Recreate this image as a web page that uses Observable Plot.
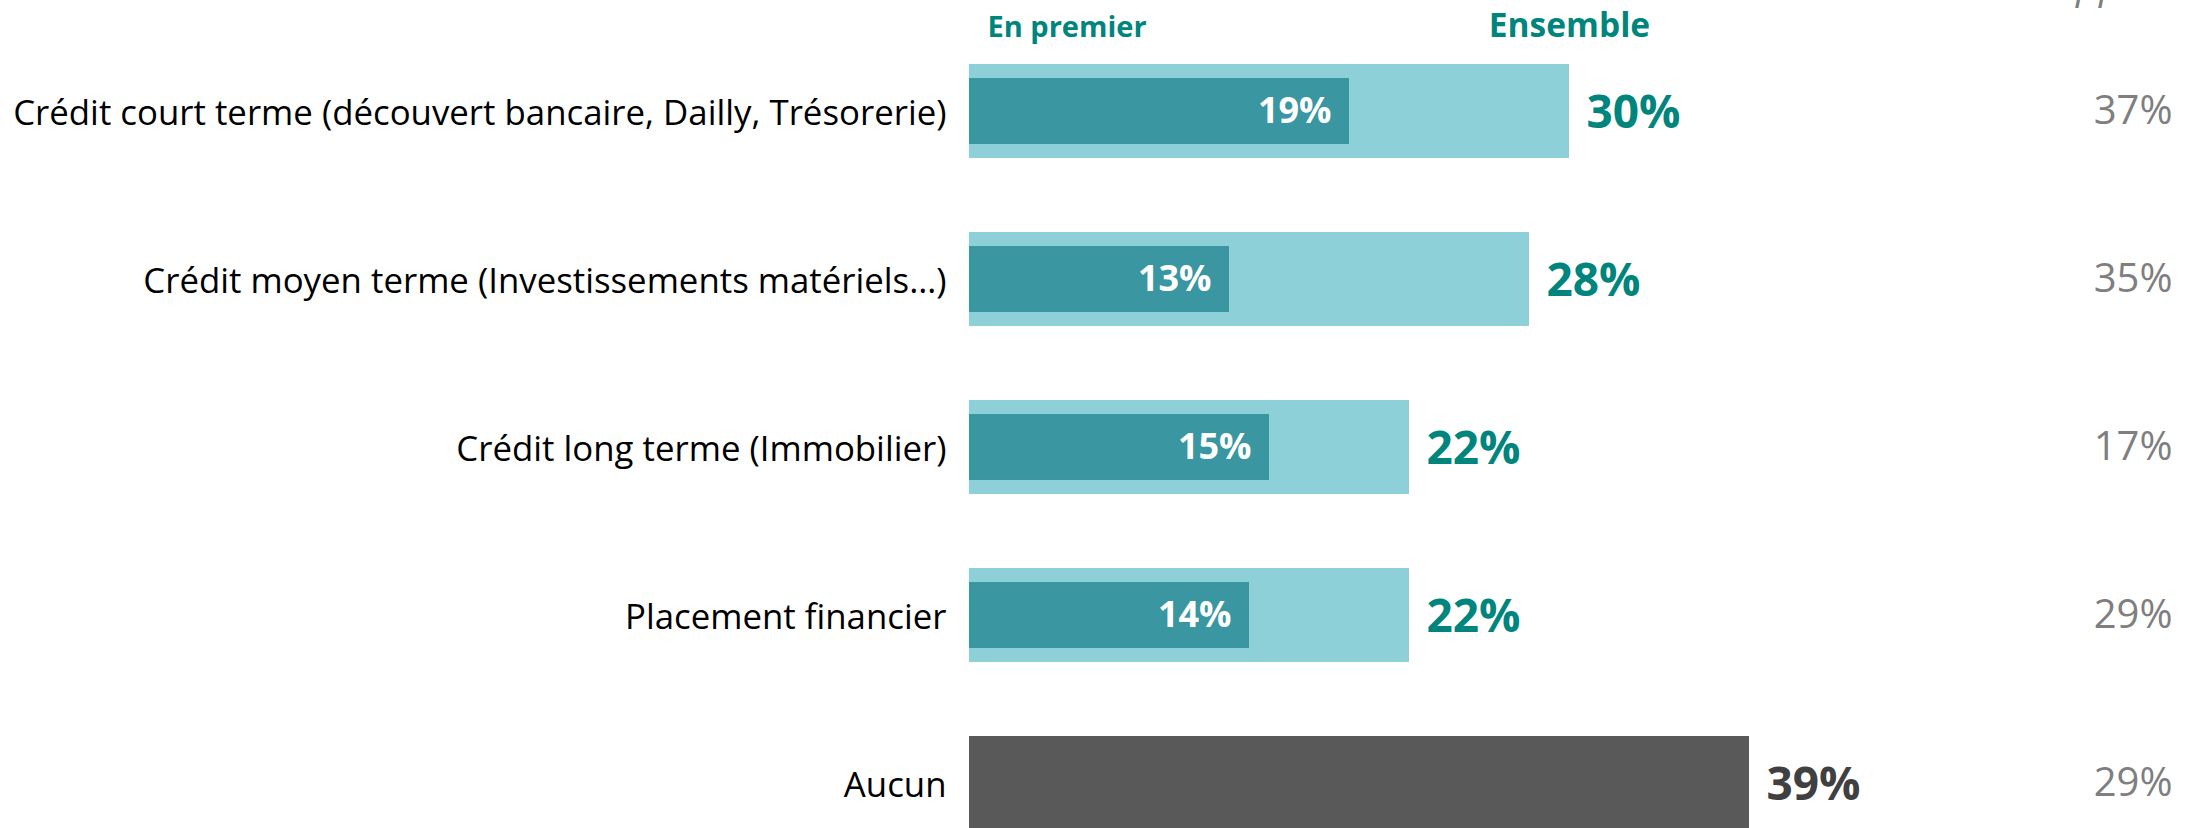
<!DOCTYPE html>
<html><head><meta charset="utf-8">
<script src="https://cdn.jsdelivr.net/npm/d3@7"></script>
<script src="https://cdn.jsdelivr.net/npm/@observablehq/plot@0.6"></script>
<style>
html,body{margin:0;padding:0;background:#fff;overflow:hidden;}
</style></head><body><div id="chart"></div>
<script>
const categories = [
  "Crédit court terme (découvert bancaire, Dailly, Trésorerie)",
  "Crédit moyen terme (Investissements matériels…)",
  "Crédit long terme (Immobilier)",
  "Placement financier",
  "Aucun"
];
const enPremier = [19, 13, 15, 14, null];
const ensemble = [30, 28, 22, 22, 39];
const rappel = [37, 35, 17, 29, 29];
const headerPremier = "En premier";
const headerEnsemble = "Ensemble";
const headerRappel = "Rappel";

const rows = categories.map((c, i) => ({cat: c, premier: enPremier[i], ensemble: ensemble[i], rappel: rappel[i], aucun: c === "Aucun"}));
const teal = "#00857D";
const font = "'Open Sans', sans-serif";

const chart = Plot.plot({
  width: 2205, height: 828,
  marginLeft: 969, marginRight: 0, marginTop: 0, marginBottom: 0,
  style: {fontFamily: font, background: "#fff", overflow: "hidden"},
  x: {domain: [0, 61.8], axis: null},
  y: {domain: categories, range: [25.1, 868.9], padding: 0, axis: null},
  color: {type: "identity"},
  marks: [
    Plot.barX(rows, {y: "cat", x: "ensemble", fill: d => d.aucun ? "#595959" : "#8ED0D8", insetTop: 37, insetBottom: 37}),
    Plot.barX(rows.filter(d => d.premier != null), {y: "cat", x: "premier", fill: "#3A96A0", insetTop: 51, insetBottom: 51}),
    Plot.text(rows, {y: "cat", x: 0, text: "cat", textAnchor: "end", dx: -23, dy: 2, fontSize: 34.8, fill: "#000"}),
    Plot.text(rows.filter(d => d.premier != null), {y: "cat", x: "premier", text: d => d.premier + "%", textAnchor: "end", dx: -18, fill: "#fff", fontWeight: "bold", fontSize: 36}),
    Plot.text(rows, {y: "cat", x: "ensemble", text: d => d.ensemble + "%", textAnchor: "start", dx: 17, dy: 2, fill: d => d.aucun ? "#404040" : teal, fontWeight: "bold", fontSize: 46}),
    Plot.text(rows, {y: "cat", frameAnchor: "right", dx: -33, text: d => d.rappel + "%", textAnchor: "end", fill: "#7F7F7F", fontSize: 40}),
    Plot.text([headerPremier], {x: 0, frameAnchor: "top", dx: 18, dy: 36, textAnchor: "start", lineAnchor: "bottom", fill: teal, fontWeight: "bold", fontSize: 29}),
    Plot.text([rows[0]], {x: "ensemble", text: () => headerEnsemble, frameAnchor: "top", dy: 36, textAnchor: "middle", lineAnchor: "bottom", fill: teal, fontWeight: "bold", fontSize: 33.5}),
    Plot.text([headerRappel], {frameAnchor: "top-right", dx: -175, dy: -3, textAnchor: "start", lineAnchor: "bottom", fill: "#7F7F7F", fontStyle: "italic", fontSize: 40})
  ]
});
document.getElementById("chart").appendChild(chart);
</script></body></html>
